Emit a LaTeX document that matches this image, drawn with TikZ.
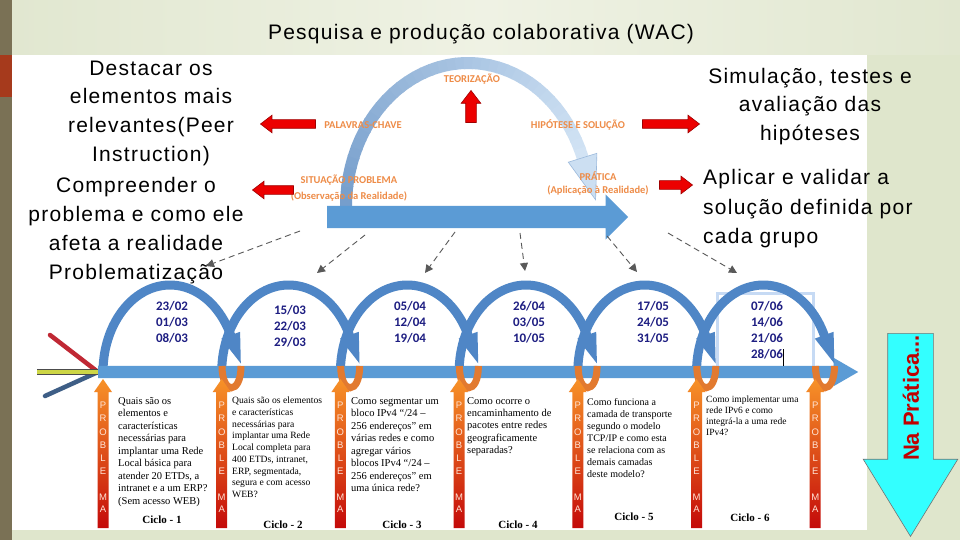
\documentclass[tikz,border=0pt]{standalone}
\usepackage{fontspec}
\setmainfont{Liberation Sans}
\newfontfamily\wsans[LetterSpace=6]{Liberation Sans}
\newfontfamily\calib{Carlito}
\newfontfamily\tnr{Liberation Serif}
\usetikzlibrary{arrows.meta,shapes.arrows}
\definecolor{bggreen}{RGB}{223,230,204}
\definecolor{bgtopA}{RGB}{225,231,208}
\definecolor{bgtopB}{RGB}{239,242,228}
\definecolor{olive}{RGB}{122,113,85}
\definecolor{rustred}{RGB}{166,58,28}
\definecolor{barblue}{RGB}{91,155,213}
\definecolor{loopblue}{RGB}{79,134,198}
\definecolor{arcA}{RGB}{118,158,204}
\definecolor{arcB}{RGB}{212,229,245}
\definecolor{lblorange}{RGB}{238,140,72}
\definecolor{arrred}{RGB}{236,0,0}
\definecolor{arrredD}{RGB}{160,0,0}
\definecolor{datenavy}{RGB}{30,30,130}
\definecolor{probor}{RGB}{247,146,40}
\definecolor{probred}{RGB}{196,10,10}
\definecolor{uor}{RGB}{226,122,48}
\definecolor{cyanar}{RGB}{51,255,255}
\definecolor{darkred}{RGB}{192,0,0}
\definecolor{selblue}{RGB}{198,218,244}
\definecolor{yline}{RGB}{205,214,70}
\definecolor{rline}{RGB}{192,40,52}
\definecolor{bline}{RGB}{62,94,134}
\definecolor{letterc}{RGB}{255,228,214}
\begin{document}
\begin{tikzpicture}[x=1pt,y=-1pt,
  bigtxt/.style={font=\wsans\fontsize{21}{26}\selectfont, inner sep=0, anchor=base},
  toplbl/.style={font=\calib\bfseries\fontsize{10.5}{12}\selectfont, text=lblorange, inner sep=0},
  datetxt/.style={font=\calib\bfseries\fontsize{13}{16}\selectfont, text=datenavy, align=center, inner sep=0, anchor=north},
  qtxt/.style={font=\tnr\fontsize{10.5}{12.5}\selectfont, align=left, inner sep=0, anchor=north west},
  ciclo/.style={font=\tnr\bfseries\fontsize{11}{13}\selectfont, inner sep=0},
  blockarrow/.style={single arrow, inner xsep=0, single arrow head indent=0},
  redarr/.style={blockarrow, draw=arrredD, fill=arrred, line width=0.6, inner ysep=4, minimum width=17, single arrow head extend=4.5, single arrow tip angle=75, anchor=tip},
  probletter/.style={font=\fontsize{9.5}{10}\selectfont, text=letterc, inner sep=0},
  dashedarrow/.style={draw=black!65, line width=0.9, dash pattern=on 6pt off 4pt, -{Triangle[length=8pt,width=8pt]}},
  loopline/.style={draw=loopblue, line width=9},
]
\useasboundingbox (0,0) rectangle (960,540);
% background
\fill[bggreen] (0,0) rectangle (960,540);
\shade[left color=bgtopA, right color=bgtopA, middle color=bgtopB] (12,0) rectangle (960,55);
\fill[white] (12,55) rectangle (867,530);
\fill[olive] (0,0) rectangle (12,540);
\fill[rustred] (0,55) rectangle (12,97);

% title
\node[bigtxt] (title) at (481,40) {Pesquisa e produção colaborativa (WAC)};

% ---- top diagram ----
\foreach \a in {180,184,...,336} {
  \pgfmathsetmacro\p{(\a-180)/160*100}
  \pgfmathsetmacro\b{\a+4.6}
  \draw[line width=12, draw={arcB!\p!arcA}] plot[domain=\a:\b, samples=4] ({468+122*cos(\x)},{207+144*sin(\x)});
}
\filldraw[fill=arcB!92!arcA, draw=arcA!60!arcB, line width=0.6] (568.3,162.2) -- (595.6,199.8) -- (596.9,153.3) -- cycle;
\node[blockarrow, fill=barblue, inner ysep=11, minimum height=301, minimum width=45, single arrow head extend=11.5, single arrow tip angle=90, anchor=tail] (bigarrow) at (327,217) {};

\node[toplbl] (teor) at (472,79) {TEORIZAÇÃO};
\node[toplbl] (palav) at (363,125) {PALAVRAS-CHAVE};
\node[toplbl] (hipot) at (578,125) {HIPÓTESE E SOLUÇÃO};
\node[toplbl] (sit1) at (349,180) {SITUAÇÃO PROBLEMA};
\node[toplbl] (sit2) at (349,196) {(Observação da Realidade)};
\node[toplbl] (prat1) at (598,176) {PRÁTICA};
\node[toplbl] (prat2) at (598,190) {(Aplicação à Realidade)};

\node[redarr, minimum height=55, rotate=180] (ra1) at (260,124) {};
\node[redarr, minimum height=32, minimum width=19, inner ysep=5, rotate=90] (ra2) at (471,90) {};
\node[redarr, minimum height=57] (ra3) at (700,124) {};
\node[redarr, minimum height=41, rotate=180] (ra4) at (252,190) {};
\node[redarr, minimum height=33] (ra5) at (693,185) {};

% left texts
\node[bigtxt] (l1) at (151,76) {Destacar os};
\node[bigtxt] (l2) at (151,104) {elementos mais};
\node[bigtxt] (l3) at (151,133) {relevantes(Peer};
\node[bigtxt] (l4) at (151,162) {Instruction)};
\node[bigtxt] (l5) at (136,193) {Compreender o};
\node[bigtxt] (l6) at (136,221) {problema e como ele};
\node[bigtxt] (l7) at (136,250) {afeta a realidade};
\node[bigtxt] (l8) at (136,279) {Problematização};
% right texts
\node[bigtxt] (r1) at (810,84) {Simulação, testes e};
\node[bigtxt] (r2) at (810,112) {avaliação das};
\node[bigtxt] (r3) at (810,141) {hipóteses};
\node[bigtxt, anchor=base west] (r4) at (703,185) {Aplicar e validar a};
\node[bigtxt, anchor=base west] (r5) at (703,214) {solução definida por};
\node[bigtxt, anchor=base west] (r6) at (703,243) {cada grupo};

% dashed arrows
\coordinate (d1s) at (300,231); \coordinate (d1e) at (206,266);
\coordinate (d2s) at (365,235); \coordinate (d2e) at (317,273);
\coordinate (d3s) at (455,232); \coordinate (d3e) at (425,273);
\coordinate (d4s) at (520,233); \coordinate (d4e) at (525,271);
\coordinate (d5s) at (607,236); \coordinate (d5e) at (637,272);
\coordinate (d6s) at (668,233); \coordinate (d6e) at (737,273);
\foreach \k in {1,...,6} { \draw[dashedarrow] (d\k s) -- (d\k e); }

% ---- bottom timeline ----
\draw[selblue, line width=3] (717,293) rectangle (813,367);

\coordinate (conv) at (98,372);
\coordinate (ystart) at (37,372);
\coordinate (rstart) at (50,335);
\coordinate (bstart) at (45,396);
\draw[rline, line width=4.5, line cap=round] (rstart) -- (conv);
\draw[bline, line width=4.5, line cap=round] (bstart) -- (conv);
\draw[black!70, line width=6] (ystart) -- (conv);
\draw[yline, line width=4] (ystart) -- (conv);

\foreach \i in {0,...,5} {
  \pgfmathsetmacro\cx{170+118.7*\i}
  \draw[loopline] plot[domain=180:336, samples=50] ({\cx+67*cos(\x)},{372+87*sin(\x)});
}
\node[blockarrow, fill=barblue, inner ysep=6, minimum height=760, minimum width=28, single arrow head extend=8, single arrow tip angle=60, anchor=tail] (bar) at (98,372) {};
\foreach \i in {0,...,5} {
  \pgfmathsetmacro\cx{170+118.7*\i}
  \draw[uor, line width=7] ({\cx+52},366) .. controls ({\cx+52},395) and ({\cx+71},395) .. ({\cx+71},366);
  \fill[loopblue] ({\cx+51.3},338.6) -- ({\cx+70.8},363.4) -- ({\cx+70.1},331.8) -- cycle;
}

% PROBLEMA arrows
\foreach \i in {0,...,6} {
  \pgfmathsetmacro\px{103+118.7*\i}
  \shade[top color=probor, bottom color=probred] ({\px-5.5},528) -- ({\px-5.5},392) -- ({\px-9},392) -- (\px,379) -- ({\px+9},392) -- ({\px+5.5},392) -- ({\px+5.5},528) -- cycle;
  \foreach \l/\yy [count=\k] in {P/405,R/418,O/432,B/445,L/458,E/471,M/497,A/509} {
    \node[probletter] (p\i-\k) at (\px,\yy) {\l};
  }
}

% dates
\node[datetxt] (dt1) at (172,301) {23/02\\01/03\\08/03};
\node[datetxt] (dt2) at (290,305) {15/03\\22/03\\29/03};
\node[datetxt] (dt3) at (410,301) {05/04\\12/04\\19/04};
\node[datetxt] (dt4) at (529,301) {26/04\\03/05\\10/05};
\node[datetxt] (dt5) at (653,301) {17/05\\24/05\\31/05};
\node[datetxt] (dt6) at (767,301) {07/06\\14/06\\21/06\\28/06};
\draw[black, line width=0.8] (783,349) -- (783,366);

% questions
\node[qtxt] (q1) at (118,397) {Quais são os\\elementos e\\características\\necessárias para\\implantar uma Rede\\Local básica para\\atender 20 ETDs, a\\intranet e a um ERP?\\(Sem acesso WEB)};
\node[qtxt, font=\tnr\fontsize{9.6}{11.7}\selectfont] (q2) at (232,397) {Quais são os elementos\\e características\\necessárias para\\implantar uma Rede\\Local completa para\\400 ETDs, intranet,\\ERP, segmentada,\\segura e com acesso\\WEB?};
\node[qtxt] (q3) at (351,397) {Como segmentar um\\bloco IPv4 “/24 –\\256 endereços” em\\várias redes e como\\agregar vários\\blocos IPv4 “/24 –\\256 endereços” em\\uma única rede?};
\node[qtxt, font=\tnr\fontsize{10.5}{12.3}\selectfont] (q4) at (467,397) {Como ocorre o\\encaminhamento de\\pacotes entre redes\\geograficamente\\separadas?};
\node[qtxt, font=\tnr\fontsize{10}{12}\selectfont] (q5) at (587,398) {Como funciona a\\camada de transporte\\segundo o modelo\\TCP/IP e como esta\\se relaciona com as\\demais camadas\\deste modelo?};
\node[qtxt, font=\tnr\fontsize{9.5}{11}\selectfont] (q6) at (706,396) {Como implementar uma\\rede IPv6 e como\\integrá-la a uma rede\\IPv4?};

\node[ciclo] (c1) at (162,520) {Ciclo - 1};
\node[ciclo] (c2) at (283,525) {Ciclo - 2};
\node[ciclo] (c3) at (402,525) {Ciclo - 3};
\node[ciclo] (c4) at (518,525) {Ciclo - 4};
\node[ciclo] (c5) at (634,517) {Ciclo - 5};
\node[ciclo] (c6) at (750,518) {Ciclo - 6};

% Na Pratica arrow
\node[blockarrow, rotate=-90, fill=cyanar, draw=black!55, line width=0.6, inner ysep=22.5, minimum height=203, minimum width=94, single arrow head extend=24.5, single arrow tip angle=63, anchor=tip] (napr) at (910.5,537) {};
\node[rotate=90, font=\bfseries\fontsize{22}{24}\selectfont, text=darkred, inner sep=0] (naprtxt) at (911,398) {Na Prática...};
\end{tikzpicture}
\end{document}
